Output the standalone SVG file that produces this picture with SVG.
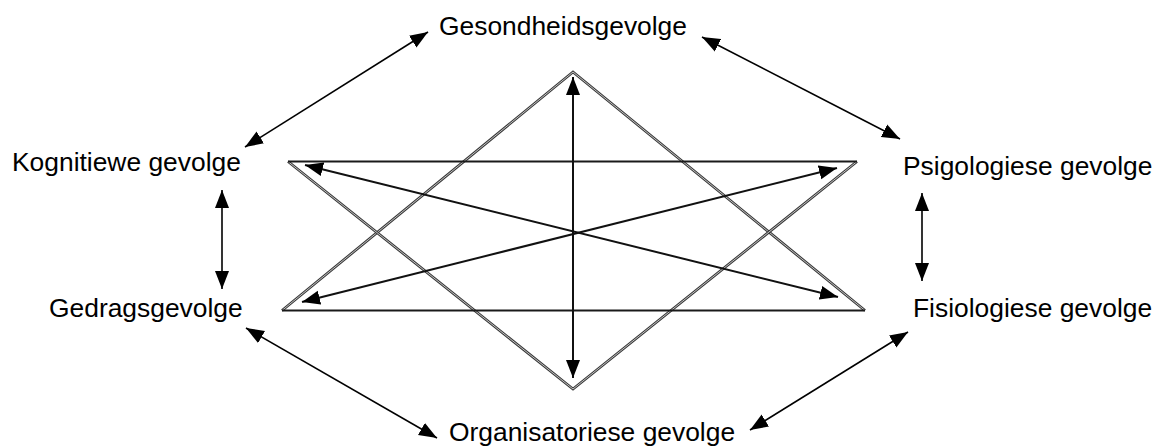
<svg xmlns="http://www.w3.org/2000/svg" width="1161" height="448" viewBox="0 0 1161 448">
  <style>
    .lbl { font-family: "Liberation Sans", Arial, sans-serif; font-size: 26.4px; fill: #000; }
    .conn { stroke: #000; stroke-width: 1.6; fill: none; marker-start: url(#ah); marker-end: url(#ah); }
    .inner { stroke: #111; stroke-width: 2; fill: none; marker-start: url(#ah); marker-end: url(#ah); }
    .edge-o { stroke: #3a3a3a; stroke-width: 2.8; fill: none; stroke-linejoin: miter; }
    .edge-i { stroke: #e4e4e4; stroke-width: 0.8; fill: none; }
    .base { stroke: #1a1a1a; stroke-width: 2.2; fill: none; }
  </style>
  <defs>
    <marker id="ah" markerUnits="userSpaceOnUse" markerWidth="19" markerHeight="15" viewBox="0 0 19 15" refX="18" refY="7.5" orient="auto-start-reverse">
      <path d="M0,0.5 L18,7.5 L0,14.5 z" fill="#000"/>
    </marker>
  </defs>
  <rect width="1161" height="448" fill="#fff"/>

  <g id="star">
    <path class="edge-o" d="M282,310.5 L573,72 L865,310.5"/>
    <path class="edge-i" d="M282,310.5 L573,72 L865,310.5"/>
    <path class="edge-o" d="M288,161.5 L573,389 L857,161.5"/>
    <path class="edge-i" d="M288,161.5 L573,389 L857,161.5"/>
    <line class="base" x1="282" y1="310.5" x2="865" y2="310.5"/>
    <line class="base" x1="288" y1="161.5" x2="857" y2="161.5"/>
  </g>

  <g id="connectors">
    <line class="inner" x1="573" y1="77" x2="573" y2="378"/>
    <line class="inner" x1="305" y1="165" x2="838" y2="297"/>
    <line class="inner" x1="302" y1="302" x2="837" y2="168"/>
    <line class="conn" x1="245" y1="147" x2="428" y2="32"/>
    <line class="conn" x1="702" y1="37" x2="900" y2="139"/>
    <line class="conn" x1="222" y1="190" x2="222" y2="289"/>
    <line class="conn" x1="922" y1="193" x2="922" y2="281"/>
    <line class="conn" x1="246" y1="328" x2="437" y2="438"/>
    <line class="conn" x1="908" y1="332" x2="750" y2="430"/>
  </g>

  <g id="node-gesondheid"><text class="lbl" x="439" y="35">Gesondheidsgevolge</text></g>
  <g id="node-kognitief"><text class="lbl" x="12" y="171">Kognitiewe gevolge</text></g>
  <g id="node-psigologies"><text class="lbl" x="903" y="175">Psigologiese gevolge</text></g>
  <g id="node-gedrag"><text class="lbl" x="49" y="317">Gedragsgevolge</text></g>
  <g id="node-fisiologies"><text class="lbl" x="913" y="317">Fisiologiese gevolge</text></g>
  <g id="node-organisatories"><text class="lbl" x="449" y="441">Organisatoriese gevolge</text></g>
</svg>
